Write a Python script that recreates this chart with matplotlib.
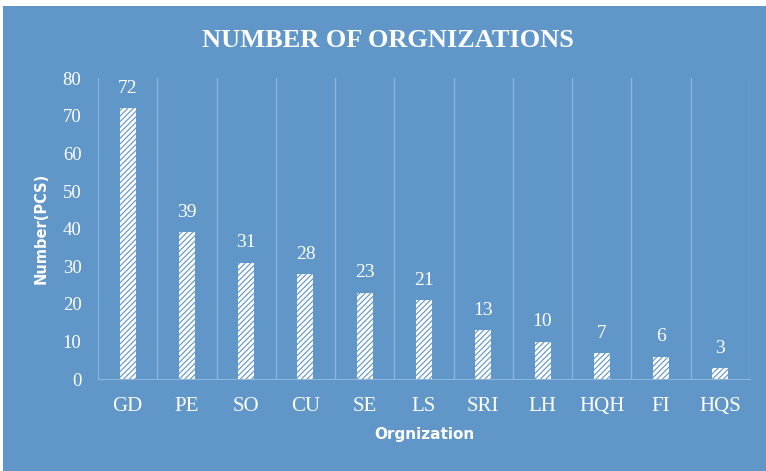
import numpy as np
import matplotlib.pyplot as plt
from matplotlib.patches import Rectangle

orgs = ['GD', 'PE', 'SO', 'CU', 'SE', 'LS', 'SRI', 'LH', 'HQH', 'FI', 'HQS']
counts = [72, 39, 31, 28, 23, 21, 13, 10, 7, 6, 3]

if __name__ == '__main__':
    plt.rcParams['font.family'] = 'serif'
    plt.rcParams['font.serif'] = ['Liberation Serif']
    plt.rcParams['hatch.linewidth'] = 2.0

    bg = '#6096c8'
    grid_c = '#8cb4dc'

    fig = plt.figure(figsize=(7.66, 4.71), dpi=100)
    fig.patch.set_facecolor('white')
    fig.patches.append(Rectangle((3 / 766, 0), 1, 1 - 6 / 471, transform=fig.transFigure,
                                 facecolor=bg, edgecolor='none', zorder=-1))

    ax = fig.add_axes([0.128, 0.195, 0.851, 0.639])
    ax.set_facecolor(bg)

    x = np.arange(len(orgs))
    ax.bar(x, counts, width=0.27, facecolor=bg, edgecolor='white',
           hatch='//////', linewidth=0, zorder=3)

    for xi, v in zip(x, counts):
        ax.text(xi, v + 3, str(v), ha='center', va='bottom', color='white', fontsize=14)

    ax.set_xlim(-0.5, len(orgs) - 0.5)
    ax.set_ylim(0, 80)
    ax.set_yticks(range(0, 81, 10))
    ax.set_xticks(x)
    ax.set_xticklabels(orgs)
    for b in np.arange(0.5, len(orgs) - 0.4, 1):
        ax.axvline(b, color=grid_c, lw=1, zorder=1)

    for s in ['top', 'right']:
        ax.spines[s].set_visible(False)
    for s in ['left', 'bottom']:
        ax.spines[s].set_color(grid_c)
    ax.tick_params(axis='both', length=0, colors='white', labelsize=13.5)
    ax.tick_params(axis='x', pad=13, labelsize=15)
    ax.tick_params(axis='y', pad=12)

    ax.set_xlabel('Orgnization', fontfamily='DejaVu Sans', fontweight='bold',
                  color='white', fontsize=11, labelpad=8)
    ax.set_ylabel('Number(PCS)', fontfamily='DejaVu Sans', fontweight='bold',
                  color='white', fontsize=10.5, labelpad=10)

    fig.text(0.506, 0.915, 'NUMBER OF ORGNIZATIONS', ha='center', va='center',
             color='white', fontsize=19, fontweight='bold')

    plt.savefig('out.png', dpi=100, facecolor=fig.get_facecolor())
    plt.close()
